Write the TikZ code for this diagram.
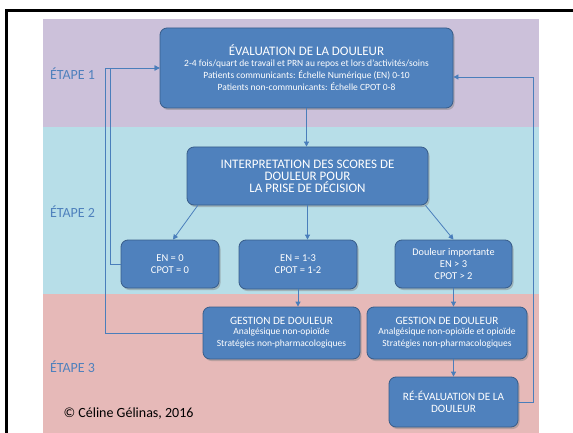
\documentclass[tikz,border=0pt]{standalone}
\usepackage{fontspec}
\setmainfont{Carlito}
\usetikzlibrary{arrows.meta,positioning,shadows}
\definecolor{bandviolet}{HTML}{CCC1DA}
\definecolor{bandbleu}{HTML}{B7DEE8}
\definecolor{bandrose}{HTML}{E6B9B8}
\definecolor{bleuboite}{HTML}{4F81BD}
\definecolor{bordboite}{HTML}{385D8A}
\definecolor{bleufleche}{HTML}{4A7EBB}
\newcommand{\grand}{\fontsize{13}{14.5}\selectfont}
\newcommand{\moyen}{\fontsize{11.2}{13}\selectfont}
\newcommand{\score}{\fontsize{10.5}{13.5}\selectfont}
\newcommand{\petit}{\fontsize{9.5}{11}\selectfont}

\begin{document}
\begin{tikzpicture}[x=1pt,y=-1pt,
        boite/.style={draw=bordboite, line width=0.8pt, fill=bleuboite, rounded corners=7pt,
            text=white, align=center, inner sep=0pt,
            drop shadow={shadow xshift=1.5pt, shadow yshift=-2pt, opacity=0.45}},
        fl/.style={draw=bleufleche, line width=0.8pt, -{Triangle[length=5pt,width=5pt]}},
        etape/.style={text=bleuboite, font=\fontsize{14}{16}\selectfont, anchor=west}]
                \useasboundingbox (0,0) rectangle (573,433);
                \fill[bandviolet] (43,19) rectangle (539,127);
                \fill[bandbleu] (43,127) rectangle (539,294);
                \fill[bandrose] (43,294) rectangle (539,433);
                \draw[line width=3pt] (6.5,433) -- (6.5,10.5) -- (573,10.5);

                \node[etape] (e1) at (46.5,74) {ÉTAPE 1};
                \node[etape] (e2) at (46.5,212) {ÉTAPE 2};
                \node[etape] (e3) at (46.5,367) {ÉTAPE 3};
                \node[anchor=west, font=\fontsize{14}{16}\selectfont] (copy) at (60,414) {© Céline Gélinas, 2016};

                \node[boite, minimum width=293pt, minimum height=80pt] (eval) at (306.5,68)
                    {\grand ÉVALUATION DE LA DOULEUR\\[-1pt]
                     \petit 2-4 fois/quart de travail et PRN au repos et lors d’activités/soins\\
                     \petit Patients communicants: Échelle Numérique (EN) 0-10\\
                     \petit Patients non-communicants: Échelle CPOT 0-8};
                \node[boite, minimum width=241pt, minimum height=58pt] (interp) at (307.5,176)
                    {\grand INTERPRETATION DES SCORES DE\\ \grand DOULEUR POUR\\ \grand LA PRISE DE DÉCISION};
                \node[boite, minimum width=98pt, minimum height=48pt] (zero) at (170,264)
                    {\score EN = 0\\ \score CPOT = 0};
                \node[boite, minimum width=118pt, minimum height=49pt] (faible) at (298,264.5)
                    {\score EN = 1-3\\ \score CPOT = 1-2};
                \node[boite, minimum width=117pt, minimum height=48pt] (forte) at (453.5,264)
                    {\fontsize{10.2}{12.5}\selectfont Douleur importante\\ \score EN > 3\\ \score CPOT > 2};
                \node[boite, minimum width=157pt, minimum height=52pt] (gest1) at (281.5,333)
                    {\moyen GESTION DE DOULEUR\\[-2pt] \petit Analgésique non-opioïde\\ \petit Stratégies non-pharmacologiques};
                \node[boite, minimum width=160pt, minimum height=52pt] (gest2) at (447,333)
                    {\moyen GESTION DE DOULEUR\\[-2pt] \petit Analgésique non-opioïde et opioïde\\ \petit Stratégies non-pharmacologiques};
                \node[boite, minimum width=129pt, minimum height=50pt] (reeval) at (453.5,402)
                    {\moyen RÉ-ÉVALUATION DE LA\\ \moyen DOULEUR};

                \coordinate (gint) at (110.5,0);
                \coordinate (gext) at (105.5,0);
                \coordinate (dhaut) at (533,77);

                \draw[fl] (eval.south) -- (eval.south |- interp.north);
                \draw[fl] (interp.195) -- ([xshift=3pt]zero.north);
                \draw[fl] (interp.south) -- (interp.south |- faible.north);
                \draw[fl] (interp.346) -- (forte.north);
                \draw[fl] (faible.south) -- (faible.south |- gest1.north);
                \draw[fl] (forte.south) -- (forte.south |- gest2.north);
                \draw[fl] (reeval.north |- gest2.south) -- (reeval.north);
                \draw[fl] (zero.west) -| (gint |- eval.west) -- (eval.west);
                \draw[fl] (gest1.west) -| (gext |- eval.west) -- (eval.west);
                \draw[fl] (reeval.east) -| (dhaut) -- (dhaut -| eval.east);
            \end{tikzpicture}
\end{document}
